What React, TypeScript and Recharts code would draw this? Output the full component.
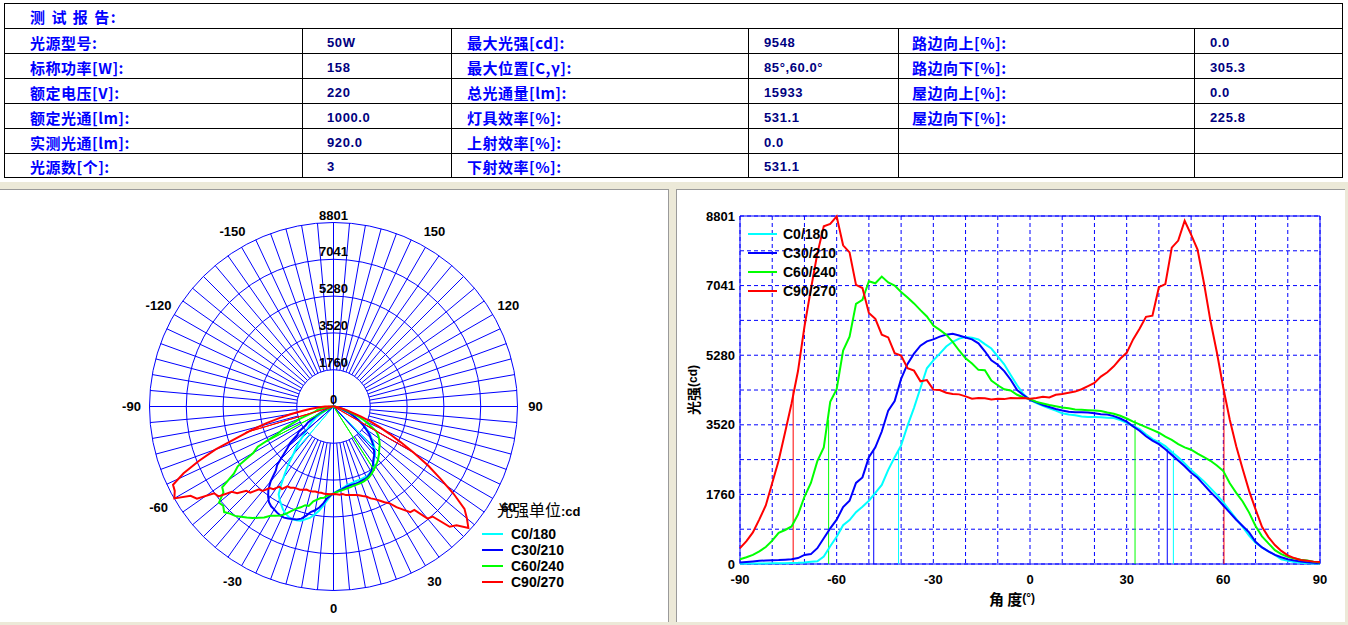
import React from "react";
import {
  LineChart,
  Line,
  XAxis,
  YAxis,
  CartesianGrid,
  ReferenceLine,
  ReferenceArea,
  Legend,
  RadarChart,
  Radar,
  PolarGrid,
  PolarAngleAxis,
  PolarRadiusAxis,
} from "recharts";

const LATIN = '"Liberation Sans", Arial, sans-serif';
const CJK = '"Noto Sans CJK SC", "Noto Sans", sans-serif';

// ---- report table text ----
const TITLE = "测 试 报 告:";
const COL1 = ["光源型号:", "标称功率[W]:", "额定电压[V]:", "额定光通[lm]:", "实测光通[lm]:", "光源数[个]:"];
const COL2 = ["50W", "158", "220", "1000.0", "920.0", "3"];
const COL3 = ["最大光强[cd]:", "最大位置[C,γ]:", "总光通量[lm]:", "灯具效率[%]:", "上射效率[%]:", "下射效率[%]:"];
const COL4 = ["9548", "85°,60.0°", "15933", "531.1", "0.0", "531.1"];
const COL5 = ["路边向上[%]:", "路边向下[%]:", "屋边向上[%]:", "屋边向下[%]:", "", ""];
const COL6 = ["0.0", "305.3", "0.0", "225.8", "", ""];

// ---- intensity curves (cd), gamma -90..90 step 2 ----
const GAMMA = [
  -90, -88, -86, -84, -82, -80, -78, -76, -74, -72,
  -70, -68, -66, -64, -62, -60, -58, -56, -54, -52,
  -50, -48, -46, -44, -42, -40, -38, -36, -34, -32,
  -30, -28, -26, -24, -22, -20, -18, -16, -14, -12,
  -10, -8, -6, -4, -2, 0, 2, 4, 6, 8,
  10, 12, 14, 16, 18, 20, 22, 24, 26, 28,
  30, 32, 34, 36, 38, 40, 42, 44, 46, 48,
  50, 52, 54, 56, 58, 60, 62, 64, 66, 68,
  70, 72, 74, 76, 78, 80, 82, 84, 86, 88,
  90,
];

const C0 = [
  8, 10, 12, 14, 15, 16, 17, 20, 25, 30,
  40, 55, 70, 190, 450, 690, 980, 1110, 1310, 1450,
  1600, 1800, 2000, 2380, 2700, 3000, 3500, 3950, 4450, 4950,
  5150, 5320, 5500, 5620, 5700, 5740, 5720, 5680, 5560, 5450,
  5250, 5050, 4780, 4520, 4290, 4150, 4070, 4000, 3940, 3880,
  3810, 3780, 3760, 3730, 3720, 3720, 3710, 3700, 3690, 3640,
  3570, 3490, 3410, 3280, 3160, 3080, 2980, 2830, 2700, 2540,
  2380, 2230, 2090, 1920, 1750, 1560, 1350, 1140, 940, 720,
  540, 420, 320, 230, 120, 80, 50, 30, 20, 15,
  10,
];

const C30 = [
  35, 50, 65, 80, 90, 95, 100, 110, 118, 150,
  230, 250, 400, 650, 900, 1120, 1440, 1600, 2050, 2190,
  2700, 2950, 3350, 3880, 4120, 4680, 5060, 5320, 5520, 5630,
  5680, 5750, 5800, 5820, 5780, 5730, 5680, 5580, 5380, 5150,
  5040, 4880, 4660, 4400, 4270, 4150, 4090, 4020, 3970, 3920,
  3880, 3850, 3840, 3840, 3830, 3810, 3790, 3780, 3740, 3680,
  3600, 3480, 3370, 3230, 3120, 3030, 2900, 2760, 2620, 2470,
  2310, 2180, 2000, 1820, 1660, 1480, 1300, 1120, 960, 800,
  560, 420, 320, 230, 170, 120, 90, 65, 45, 30,
  20,
];

const C60 = [
  120, 170, 230, 320, 430, 590, 790, 860, 950, 1250,
  1700, 2050, 2600, 2950, 4100, 4420, 5400, 5750, 6580, 6680,
  7150, 7100, 7270, 7120, 7040, 6880, 6740, 6590, 6420, 6260,
  6030, 5920, 5800, 5620, 5400, 5200, 5070, 4910, 4900, 4640,
  4520, 4420, 4390, 4280, 4210, 4170, 4100, 4060, 4020, 3990,
  3960, 3940, 3910, 3900, 3890, 3880, 3870, 3830, 3800, 3750,
  3680, 3600, 3530, 3460, 3390, 3320, 3220, 3140, 3030, 2950,
  2890, 2790, 2700, 2610, 2490, 2350, 2040, 1800, 1580, 1300,
  960, 700, 520, 350, 250, 180, 140, 110, 90, 60,
  40,
];

const C90 = [
  400, 580, 800, 1130, 1480, 2050, 2620, 3330, 4060, 4880,
  6000, 6950, 7850, 8540, 8600, 8790, 8060, 7880, 7060, 6980,
  6350, 6200, 5800, 5730, 5330, 5270, 4950, 4890, 4620, 4650,
  4410, 4400, 4330, 4300, 4290, 4240, 4180, 4200, 4190, 4160,
  4180, 4170, 4200, 4190, 4200, 4180, 4200, 4230, 4210, 4280,
  4300, 4330, 4360, 4420, 4500, 4580, 4740, 4850, 5000, 5190,
  5340, 5680, 5950, 6250, 6280, 7000, 7080, 8000, 8180, 8680,
  8330, 7950, 7100, 6150, 5350, 4450, 3650, 2980, 2400, 1850,
  1380, 940, 680, 480, 330, 220, 150, 100, 80, 60,
  50,
];

const SERIES = [
  { key: "c0", name: "C0/180", color: "#00FFFF", values: C0 },
  { key: "c30", name: "C30/210", color: "#0000FF", values: C30 },
  { key: "c60", name: "C60/240", color: "#00FF00", values: C60 },
  { key: "c90", name: "C90/270", color: "#FF0000", values: C90 },
];

// half-peak angle markers
const MARK_SERIES = ["c0", "c0", "c30", "c30", "c60", "c60", "c90", "c90"];
const MARK_ANGLE = [-40.8, 44.5, -48.5, 42.6, -62.5, 32.6, -73.5, 60.2];
const MARK_VALUE = [2870, 2870, 2910, 2910, 3640, 3640, 4400, 4400];

// axes
const I_MAX = 8801;
const X_TICKS = [-90, -80, -70, -60, -50, -40, -30, -20, -10, 0, 10, 20, 30, 40, 50, 60, 70, 80, 90];
const Y_TICKS = [0, 880, 1760, 2640, 3520, 4400, 5280, 6161, 7041, 7921, 8801];
const Y_LABELS = ["0", "", "1760", "", "3520", "", "5280", "", "7041", "", "8801"];
const RING_VALUES = [0, 1760, 3520, 5280, 7041, 8801];
const POLAR_LABEL_ANGLES = [-150, -120, -90, -60, -30, 0, 30, 60, 90, 120, 150];

// ---- tables built from the arrays ----
const rows = GAMMA.map((g, i) => {
  const r: Record<string, number> = { gamma: g };
  SERIES.forEach((s) => {
    r[s.key] = s.values[i];
  });
  return r;
});

const markerRows = MARK_ANGLE.flatMap((a, i) => [
  { gamma: a, ["m_" + MARK_SERIES[i]]: MARK_VALUE[i] },
  { gamma: a, ["m_" + MARK_SERIES[i]]: 0 },
]);

const polarRows = [...rows, ...markerRows];

const colorOf = (key: string) => SERIES.find((s) => s.key === key)!.color;

// polar geometry
const CX = 333.5;
const CY = 216.5;
const R_OUT = 184;
const RING_RADII = RING_VALUES.slice(1).map((v) => (v / I_MAX) * R_OUT);
const SPOKES = Array.from({ length: 72 }, (_, i) => i * 5);
const NO_MARGIN = { top: 0, right: 0, bottom: 0, left: 0 };

// ---- table ----
const TX = [4, 302, 451, 748, 898, 1194, 1342];
const TY = [3, 28, 53, 78, 103, 128, 153, 177];
const PAD = [26, 25, 16, 16, 14, 16];

function ReportTable() {
  const cols = [COL1, COL2, COL3, COL4, COL5, COL6];
  const lines: React.ReactNode[] = [];
  TY.slice(1, -1).forEach((y, i) =>
    lines.push(
      <div key={"h" + i} style={{ position: "absolute", left: TX[0], top: y, width: TX[6] - TX[0], height: 1, background: "#000" }} />
    )
  );
  TX.slice(1, -1).forEach((x, i) =>
    lines.push(
      <div key={"v" + i} style={{ position: "absolute", left: x, top: TY[1], width: 1, height: TY[7] - TY[1], background: "#000" }} />
    )
  );
  return (
    <div style={{ position: "absolute", left: 0, top: 0, width: 1348, height: 182, background: "#fff" }}>
      <div
        style={{
          position: "absolute",
          left: TX[0],
          top: TY[0],
          width: TX[6] - TX[0] + 1,
          height: TY[7] - TY[0] + 1,
          border: "1px solid #000",
          boxSizing: "border-box",
        }}
      />
      {lines}
      <div
        style={{
          position: "absolute",
          left: 30,
          top: TY[0] + 1,
          height: 25,
          lineHeight: "25px",
          fontFamily: CJK,
          fontSize: 15,
          fontWeight: 700,
          letterSpacing: 1.5,
          color: "#0000FF",
          whiteSpace: "pre",
        }}
      >
        {TITLE}
      </div>
      {cols.map((col, c) =>
        col.map((txt, r) => {
          const isLabel = c % 2 === 0;
          return (
            <div
              key={c + "-" + r}
              style={{
                position: "absolute",
                left: TX[c] + PAD[c],
                top: TY[r + 1] + 2,
                height: TY[r + 2] - TY[r + 1],
                lineHeight: TY[r + 2] - TY[r + 1] + "px",
                whiteSpace: "nowrap",
                fontFamily: isLabel ? CJK : LATIN,
                fontSize: isLabel ? 15 : 13,
                fontWeight: 700,
                letterSpacing: isLabel ? 0.5 : 0.6,
                color: isLabel ? "#0000FF" : "#000080",
              }}
            >
              {txt}
            </div>
          );
        })
      )}
    </div>
  );
}

// ---- polar panel ----
const renderAngleTick = (props: any) => {
  const { x, y, payload } = props;
  if (Math.abs(payload.value) >= 180) return <g />;
  return (
    <text x={x} y={y} textAnchor="middle" dominantBaseline="central" fill="#000" fontFamily={LATIN} fontSize={13} fontWeight={700}>
      {payload.value}
    </text>
  );
};

const renderRadiusTick = (props: any) => {
  const { x, y, payload } = props;
  return (
    <text x={x} y={y - 7.5} textAnchor="middle" dominantBaseline="central" fill="#000" fontFamily={LATIN} fontSize={13} fontWeight={700}>
      {payload.value}
    </text>
  );
};

const PolarLegend = () => (
  <div style={{ position: "relative", width: 130, height: 90, fontFamily: LATIN, color: "#000" }}>
    <div style={{ position: "absolute", left: 15, top: 0, height: 20, lineHeight: "20px", whiteSpace: "nowrap" }}>
      <span style={{ fontFamily: CJK, fontSize: 16 }}>光强单位</span>
      <span style={{ fontSize: 13, fontWeight: 700 }}>:cd</span>
    </div>
    {SERIES.map((s, i) => (
      <div key={s.key} style={{ position: "absolute", left: 0, top: 27 + i * 16, height: 16, width: 130 }}>
        <div style={{ position: "absolute", left: 0, top: 7, width: 21, height: 2, background: s.color }} />
        <div style={{ position: "absolute", left: 29, top: 0, lineHeight: "16px", fontSize: 14, fontWeight: 700, whiteSpace: "nowrap" }}>
          {s.name}
        </div>
      </div>
    ))}
  </div>
);

function PolarPanel() {
  return (
    <>
      <div style={{ position: "absolute", left: 0, top: 0 }}>
        <RadarChart
          width={668}
          height={432}
          cx={CX}
          cy={CY}
          innerRadius={RING_RADII[0]}
          outerRadius={R_OUT}
          margin={NO_MARGIN}
          data={polarRows}
        >
          <PolarGrid gridType="circle" stroke="#0000FF" strokeWidth={1} polarAngles={SPOKES} polarRadius={RING_RADII} />
        </RadarChart>
      </div>
      <div style={{ position: "absolute", left: 0, top: 0 }}>
        <RadarChart
          width={668}
          height={432}
          cx={CX}
          cy={CY}
          innerRadius={0}
          outerRadius={R_OUT}
          startAngle={90}
          endAngle={450}
          margin={NO_MARGIN}
          data={polarRows}
        >
          <PolarGrid gridType="circle" stroke="#0000FF" strokeWidth={1} polarAngles={[0, 90, 180, 270]} polarRadius={[]} />
          <PolarAngleAxis
            dataKey="gamma"
            type="number"
            domain={[-180, 180]}
            ticks={POLAR_LABEL_ANGLES}
            tickCount={13}
            axisLine={false}
            tickLine={false}
            tickSize={18}
            tick={renderAngleTick}
          />
          <PolarRadiusAxis
            angle={90}
            type="number"
            domain={[0, I_MAX]}
            ticks={RING_VALUES}
            axisLine={false}
            tick={renderRadiusTick}
          />
          {SERIES.map((s) => (
            <Radar
              key={s.key}
              dataKey={s.key}
              name={s.name}
              stroke={s.color}
              strokeWidth={2}
              fill="none"
              fillOpacity={0}
              dot={false}
              isAnimationActive={false}
            />
          ))}
          {SERIES.map((s) => (
            <Radar
              key={"m_" + s.key}
              dataKey={"m_" + s.key}
              stroke={s.color}
              strokeWidth={1}
              fill="none"
              fillOpacity={0}
              dot={false}
              legendType="none"
              isAnimationActive={false}
            />
          ))}
          <Legend
            layout="vertical"
            align="center"
            verticalAlign="middle"
            content={() => <PolarLegend />}
            wrapperStyle={{ left: 482, top: 309, width: 130, height: 90 }}
          />
        </RadarChart>
      </div>
    </>
  );
}

// ---- cartesian panel ----
const CurveLegend = () => (
  <div style={{ position: "relative", width: 110, height: 80, fontFamily: LATIN, color: "#000" }}>
    {SERIES.map((s, i) => (
      <div key={s.key} style={{ position: "absolute", left: 0, top: i * 19, height: 20, width: 110 }}>
        <div style={{ position: "absolute", left: 0, top: 9, width: 29, height: 2, background: s.color }} />
        <div style={{ position: "absolute", left: 35, top: 0, lineHeight: "20px", fontSize: 14, fontWeight: 700, whiteSpace: "nowrap" }}>
          {s.name}
        </div>
      </div>
    ))}
  </div>
);

const renderXTitle = (props: any) => {
  const vb = props.viewBox;
  return (
    <text x={vb.x + vb.width / 2 - 18} y={vb.y + 34} textAnchor="middle" dominantBaseline="central" fill="#000">
      <tspan fontFamily={CJK} fontSize={15} fontWeight={700}>角 度</tspan>
      <tspan fontFamily={LATIN} fontSize={12} fontWeight={700}>(°)</tspan>
    </text>
  );
};

const renderYTitle = (props: any) => {
  const vb = props.viewBox;
  const x = vb.x + 3;
  const y = vb.y + vb.height / 2;
  return (
    <text x={x} y={y} transform={`rotate(-90, ${x}, ${y})`} textAnchor="middle" dominantBaseline="central" fill="#000">
      <tspan fontFamily={CJK} fontSize={14} fontWeight={700}>光强</tspan>
      <tspan fontFamily={LATIN} fontSize={12} fontWeight={700}>(cd)</tspan>
    </text>
  );
};

const tickStyle = { fill: "#000", fontSize: 13, fontWeight: 700, fontFamily: LATIN };

function CurvePanel() {
  return (
    <div style={{ position: "absolute", left: 0, top: 0 }}>
      <LineChart width={668} height={432} data={rows} margin={{ top: 26, right: 25, left: 13, bottom: 28 }}>
        <CartesianGrid stroke="#0000FF" strokeDasharray="4 3" strokeWidth={1} />
        <XAxis
          dataKey="gamma"
          type="number"
          domain={[-90, 90]}
          ticks={X_TICKS}
          interval={0}
          tickFormatter={(v: number) => (v % 30 === 0 ? String(v) : "")}
          axisLine={false}
          tickLine={false}
          tickSize={8}
          tickMargin={3}
          height={30}
          tick={tickStyle}
          label={renderXTitle}
        />
        <YAxis
          type="number"
          domain={[0, I_MAX]}
          ticks={Y_TICKS}
          interval={0}
          tickFormatter={(_v: number, i: number) => Y_LABELS[i]}
          axisLine={false}
          tickLine={false}
          tickSize={3}
          tickMargin={2}
          width={50}
          tick={tickStyle}
          label={renderYTitle}
        />
        <ReferenceArea
          x1={-90}
          x2={90}
          y1={0}
          y2={I_MAX}
          fill="none"
          fillOpacity={0}
          stroke="#0000FF"
          strokeWidth={1}
          ifOverflow="visible"
        />
        {MARK_ANGLE.map((a, i) => (
          <ReferenceLine
            key={"mk" + i}
            segment={[
              { x: a, y: 0 },
              { x: a, y: MARK_VALUE[i] },
            ]}
            stroke={colorOf(MARK_SERIES[i])}
            strokeWidth={1}
          />
        ))}
        {SERIES.map((s) => (
          <Line
            key={s.key}
            type="linear"
            dataKey={s.key}
            name={s.name}
            stroke={s.color}
            strokeWidth={2}
            dot={false}
            isAnimationActive={false}
          />
        ))}
        <Legend
          layout="vertical"
          align="center"
          verticalAlign="middle"
          content={() => <CurveLegend />}
          wrapperStyle={{ left: 71, top: 34, width: 110, height: 80 }}
        />
      </LineChart>
    </div>
  );
}

export default function App() {
  return (
    <div
      style={{
        position: "absolute",
        left: 0,
        top: 0,
        width: 1348,
        height: 625,
        background: "#ECE9D8",
        overflow: "hidden",
      }}
    >
      <ReportTable />
      <div
        style={{
          position: "absolute",
          left: 0,
          top: 189,
          width: 669,
          height: 433,
          boxSizing: "border-box",
          background: "#fff",
          borderTop: "1px solid #9A9A9A",
          borderRight: "1px solid #9A9A9A",
        }}
      >
        <PolarPanel />
      </div>
      <div
        style={{
          position: "absolute",
          left: 676,
          top: 189,
          width: 669,
          height: 433,
          boxSizing: "border-box",
          background: "#fff",
          borderTop: "1px solid #9A9A9A",
          borderLeft: "1px solid #9A9A9A",
        }}
      >
        <CurvePanel />
      </div>
    </div>
  );
}
